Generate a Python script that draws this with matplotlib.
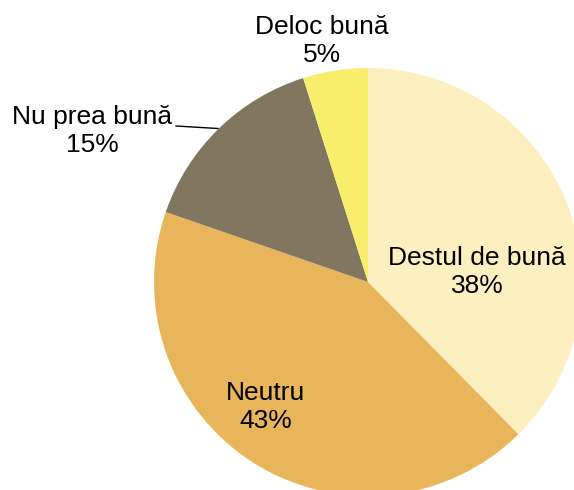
import matplotlib
matplotlib.use("Agg")
import matplotlib.pyplot as plt

categories = ["Destul de bună", "Neutru", "Nu prea bună", "Deloc bună"]
values = [37.6, 42.7, 14.8, 4.9]
pct_labels = ["38%", "43%", "15%", "5%"]
colors = ["#FDEFC0", "#E8B55A", "#817760", "#F9EE6B"]

plt.rcParams['font.family'] = ['Liberation Sans', 'DejaVu Sans']

W, H = 574, 490
fig = plt.figure(figsize=(W / 100, H / 100), dpi=100)
ax = fig.add_axes([0, 0, 1, 1])

cx, cy, r = 368, H - 282, 214
ax.pie(values, colors=colors, startangle=90, counterclock=False,
       center=(cx, cy), radius=r, frame=True,
       wedgeprops=dict(linewidth=0))
ax.set_xlim(0, W)
ax.set_ylim(0, H)
ax.set_aspect('equal')
ax.axis('off')

label_pos = [(477, 272), (266, 407), (92, 131), (322, 41)]
for cat, pct, (x, y) in zip(categories, pct_labels, label_pos):
    ax.text(x, H - y, f"{cat}\n{pct}", ha='center', va='center',
            multialignment='center', fontsize=19, color='black',
            linespacing=1.2)

# leader line for "Nu prea bună"
ax.plot([176, 218], [H - 126, H - 128.5], color='black', lw=1)

fig.savefig("out.png", dpi=100)
